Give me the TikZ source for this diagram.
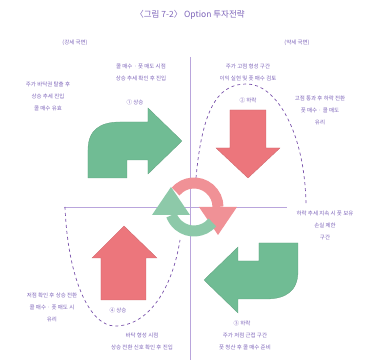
\documentclass[tikz,border=0pt]{standalone}
\usepackage{fontspec}
\setmainfont{Noto Sans CJK KR}
\definecolor{arrowgreen}{RGB}{112,188,148}
\definecolor{arrowred}{RGB}{236,118,124}
\definecolor{curvepurple}{RGB}{120,80,170}
\definecolor{axispurple}{RGB}{185,165,220}
\definecolor{labelpurple}{RGB}{125,100,185}
\begin{document}
\begin{tikzpicture}[x=1pt, y=-1pt,
		every node/.style={font=\fontsize{5.5}{12}\selectfont, text=labelpurple, align=center, inner sep=1pt},
		axisline/.style={axispurple, line width=0.8pt},
		cycline/.style={curvepurple, dashed, line width=0.7pt},
		greenshape/.style={fill=arrowgreen, draw=arrowgreen!85!black, line width=0.3pt},
		redshape/.style={fill=arrowred, draw=arrowred!85!black, line width=0.3pt}
		]
		\useasboundingbox (0,0) rectangle (368,363);
		% axes
		\coordinate (vtop) at (190,57);
		\coordinate (vbot) at (190,360);
		\coordinate (hleft) at (64,207);
		\coordinate (hright) at (287,207);
		\draw[axisline] (vtop) -- (vbot);
		\draw[axisline] (hleft) -- (hright);
		% dashed cycle curves
		\draw[cycline] (196,178) .. controls (203,100) and (222,84) .. (247,84)
			.. controls (275,84) and (305,130) .. (306,205);
		\draw[cycline] (65,207) .. controls (68,280) and (90,326) .. (115,326)
			.. controls (148,326) and (172,290) .. (180,240);
		% bent arrows
		\draw[greenshape] (88,178) -- (88,150) .. controls (88,130) and (100,122) .. (120,122)
			-- (148,122) -- (148,108) -- (182,141) -- (148,174) -- (148,160) -- (127,160) -- (127,178) -- cycle;
		\draw[greenshape, rotate around={180:(193,210.5)}] (88,178) -- (88,150) .. controls (88,130) and (100,122) .. (120,122)
			-- (148,122) -- (148,108) -- (182,141) -- (148,174) -- (148,160) -- (127,160) -- (127,178) -- cycle;
		% straight arrows
		\draw[redshape] (230,110) -- (266,110) -- (266,148) -- (280,148) -- (248,178) -- (216,148) -- (230,148) -- cycle;
		\draw[redshape] (101,300) -- (146,300) -- (146,258) -- (157,258) -- (124,226) -- (92,258) -- (101,258) -- cycle;
		% centre rotation
		\draw[arrowred!80, line width=11pt] (194,207) ++(220:24) arc[start angle=220, end angle=360, radius=24];
		\fill[arrowred!80] (199,207) -- (237,207) -- (218,235) -- cycle;
		\draw[arrowgreen!80, line width=11pt] (194,207) ++(40:24) arc[start angle=40, end angle=160, radius=24];
		\fill[arrowgreen!80] (152,215) -- (190,215) -- (171,187) -- cycle;
		% texts
		\node (title) at (190,15) {\fontsize{8.5}{9}\selectfont 〈그림 7-2〉 Option 투자전략};
		\node (bull) at (75,43) {(강세 국면)};
		\node (bear) at (297,43) {(약세 국면)};
		\node (tmnote) at (141,72) {콜 매수 · 풋 매도 시점\\상승 추세 확인 후 진입};
		\node (trnote) at (248,72) {주가 고점 형성 구간\\이익 실현 및 풋 매수 검토};
		\node (tlnote) at (48,96) {주가 바닥권 탈출 후\\상승 추세 진입\\콜 매수 유효};
		\node (uplabel) at (135,102) {① 상승};
		\node (peaklabel) at (248,100) {② 하락};
		\node (rnote) at (320,110) {고점 통과 후 하락 전환\\풋 매수 · 콜 매도\\유리};
		\node (rmnote) at (325,225) {하락 추세 지속 시 풋 보유\\손실 제한\\구간};
		\node (blnote) at (52,307) {저점 확인 후 상승 전환\\콜 매수 · 풋 매도 시\\유리};
		\node (riselabel) at (118,310) {④ 상승};
		\node (downlabel) at (242,323) {③ 하락};
		\node (bmnote) at (142,341) {바닥 형성 시점\\상승 전환 신호 확인 후 진입};
		\node (brnote) at (245,341) {주가 저점 근접 구간\\풋 청산 후 콜 매수 준비};
\end{tikzpicture}
\end{document}
